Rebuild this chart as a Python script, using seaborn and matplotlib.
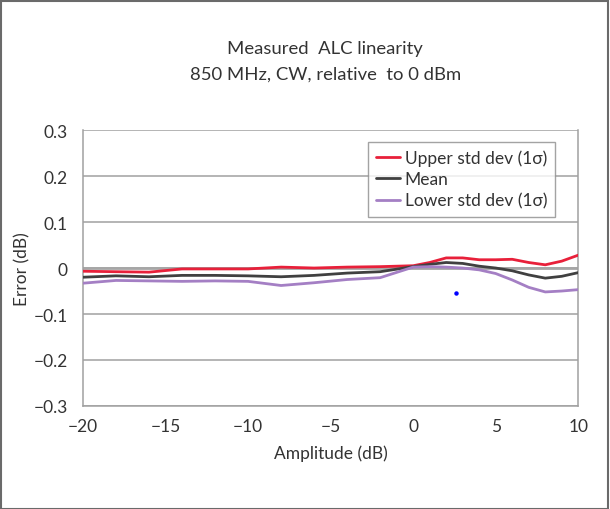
import numpy as np
import pandas as pd
import matplotlib
matplotlib.use("Agg")
import matplotlib.pyplot as plt
import seaborn as sns
from matplotlib.patches import Rectangle

sns.set_theme(style="white")
plt.rcParams["font.family"] = ["Lato", "DejaVu Sans"]

# values
amplitude = [-20, -18, -16, -14, -12, -10, -8, -6, -4, -2, 0, 1, 2, 3, 4, 5, 6, 7, 8, 9, 10]
upper = [-0.007, -0.008, -0.009, -0.002, -0.002, -0.002, 0.002, 0.000, 0.002, 0.003, 0.005,
         0.012, 0.022, 0.022, 0.018, 0.018, 0.019, 0.012, 0.007, 0.015, 0.028]
mean = [-0.020, -0.017, -0.019, -0.016, -0.016, -0.017, -0.019, -0.016, -0.011, -0.008, 0.003,
        0.008, 0.012, 0.010, 0.004, 0.000, -0.006, -0.015, -0.022, -0.018, -0.010]
lower = [-0.033, -0.027, -0.028, -0.029, -0.028, -0.029, -0.038, -0.032, -0.025, -0.021, 0.002,
         0.003, 0.002, 0.000, -0.004, -0.012, -0.026, -0.042, -0.052, -0.050, -0.047]
series_names = ["Upper std dev (1σ)", "Mean", "Lower std dev (1σ)"]
stray_x = [2.6]
stray_y = [-0.054]

df = pd.DataFrame({
    "Amplitude": amplitude * 3,
    "Error": upper + mean + lower,
    "Series": [s for s in series_names for _ in amplitude],
})

colors = {series_names[0]: "#e8203a", series_names[1]: "#404040", series_names[2]: "#a47fc4"}

fig = plt.figure(figsize=(6.1, 5.1), dpi=100)
ax = fig.add_axes([0.136, 0.202, 0.812, 0.541])

sns.lineplot(data=df, x="Amplitude", y="Error", hue="Series", palette=colors,
             linewidth=2, ax=ax, zorder=3)
ax.plot(stray_x, stray_y, "o", color="#0000ff", markersize=2.2, zorder=4)

ax.set_xlim(-20, 10)
ax.set_ylim(-0.3, 0.3)
ax.set_xticks([-20, -15, -10, -5, 0, 5, 10])
ax.set_xticklabels(["\u221220", "\u221215", "\u221210", "\u22125", "0", "5", "10"])
ax.set_yticks([-0.3, -0.2, -0.1, 0, 0.1, 0.2, 0.3])
ax.set_yticklabels(["\u22120.3", "\u22120.2", "\u22120.1", "0", "0.1", "0.2", "0.3"])
ax.tick_params(axis="both", labelsize=12.5, colors="#999999", labelcolor="#333333",
               length=5, width=1, direction="out")
ax.tick_params(axis="x", pad=4)
ax.tick_params(axis="y", pad=6)
ax.yaxis.grid(True, color="#a0a0a0", linewidth=1.1)
ax.axhline(0, color="#a6a6a6", linewidth=2, zorder=1)
for side in ["left", "right", "bottom"]:
    ax.spines[side].set_color("#a0a0a0")
    ax.spines[side].set_linewidth(1.1)
ax.spines["top"].set_visible(False)

ax.set_xlabel("Amplitude (dB)", fontsize=12.5, color="#333333", labelpad=7)
ax.set_ylabel("Error (dB)", fontsize=12.5, color="#333333", labelpad=2)

leg = ax.legend(loc="upper right", bbox_to_anchor=(0.96, 0.97), fontsize=12.5,
                frameon=True, fancybox=False, handlelength=1.4, handletextpad=0.25,
                borderpad=0.45, labelspacing=0.3, borderaxespad=0.2)
leg.get_frame().set_edgecolor("#8c8c8c")
leg.get_frame().set_linewidth(1)
for t in leg.get_texts():
    t.set_color("#333333")

fig.text(0.533, 0.903, "Measured  ALC linearity", ha="center", va="center",
         fontsize=13.3, color="#333333")
fig.text(0.533, 0.853, "850 MHz, CW, relative  to 0 dBm", ha="center", va="center",
         fontsize=13.3, color="#333333")

fig.patches.append(Rectangle((0.002, 0.0), 0.995, 0.996, transform=fig.transFigure,
                             fill=False, edgecolor="#6a6a6a", linewidth=1.5))

fig.savefig("out.png", dpi=100)
